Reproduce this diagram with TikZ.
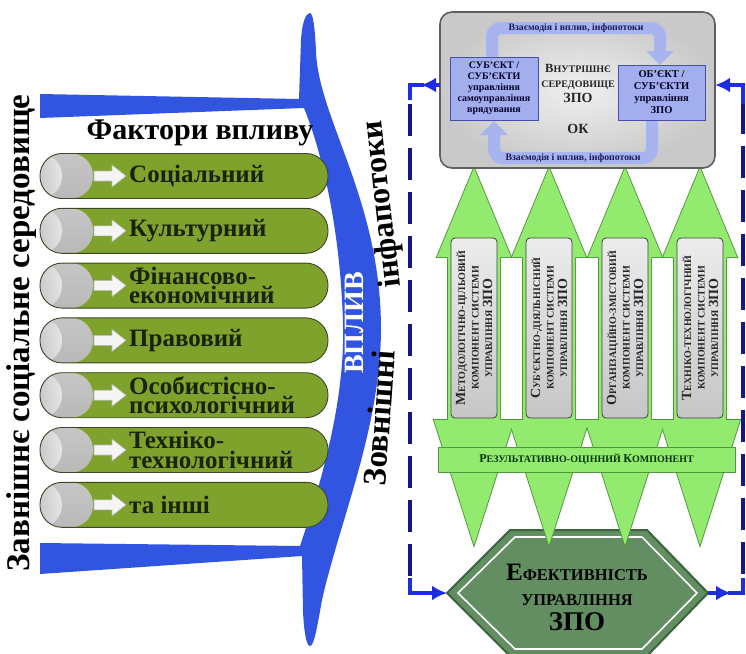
\documentclass[tikz,border=0pt]{standalone}
\usepackage{fontspec}
\setmainfont{Liberation Serif}
\usetikzlibrary{arrows.meta}
\definecolor{funnelblue}{RGB}{50,85,225}
\definecolor{navyd}{RGB}{22,22,140}
\definecolor{arrblue}{RGB}{30,45,225}
\definecolor{pillgreen}{RGB}{126,162,44}
\definecolor{pillline}{RGB}{60,70,40}
\definecolor{pilltextc}{RGB}{25,35,10}
\definecolor{lgreen}{RGB}{146,235,110}
\definecolor{gdark}{RGB}{80,150,60}
\definecolor{loopblue}{RGB}{168,180,240}
\definecolor{boxblue}{RGB}{162,174,238}
\definecolor{boxblueline}{RGB}{70,80,170}
\definecolor{envline}{RGB}{95,95,95}
\definecolor{hexgreen}{RGB}{98,142,98}
\definecolor{hexline}{RGB}{60,100,60}
\definecolor{looptextc}{RGB}{25,25,90}
\newcommand{\myBig}[2][14]{{\fontsize{#1}{#1}\selectfont #2}}
\begin{document}
\begin{tikzpicture}[x=1pt,y=-1pt,
  pill/.style={draw=pillline, line width=0.9pt, fill=pillgreen, rounded corners=22pt,
    minimum width=288pt, minimum height=45pt, inner sep=0pt,
    path picture={\shade[top color=gray!45, middle color=white, bottom color=gray!55]
      (path picture bounding box.south west) rectangle ([xshift=53pt]path picture bounding box.north west);
      \shade[left color=gray!35, right color=white, opacity=0.6]
      (path picture bounding box.south west) rectangle ([xshift=22pt]path picture bounding box.north west);}},
  pilltext/.style={anchor=west, inner sep=0pt, align=left, text=pilltextc, font=\bfseries\fontsize{25}{19.5}\selectfont},
  garrow/.style={fill=gray!8, draw=gray!55, line width=0.6pt},
  bigvert/.style={inner sep=0pt, font=\bfseries\fontsize{33}{33}\selectfont},
  comp/.style={draw=gray!50!black, line width=0.8pt, rounded corners=4pt, top color=gray!15, bottom color=gray!45,
    minimum width=180pt, minimum height=46pt, inner sep=1pt, align=center, text=black!85,
    font=\bfseries\fontsize{10}{13.5}\selectfont, rotate=90},
  bandbox/.style={draw=gdark, line width=1pt, fill=lgreen, minimum width=297pt, minimum height=25pt, inner sep=0pt,
    font=\bfseries\fontsize{10}{10}\selectfont, text=black!80!green},
  envbox/.style={draw=envline, line width=1.6pt, rounded corners=12pt, inner color=gray!12, outer color=gray!42,
    minimum width=275pt, minimum height=156pt},
  subbox/.style={draw=boxblueline, line width=0.8pt, fill=boxblue, align=center, inner sep=0pt,
    font=\bfseries\fontsize{10}{11}\selectfont, text=black!85!blue},
  looptext/.style={inner sep=0pt, font=\bfseries\fontsize{9.8}{10}\selectfont, text=looptextc},
  loopband/.style={draw=loopblue, line width=12pt, rounded corners=9pt, -{Triangle[length=14pt,width=27pt]}},
  fbsolid/.style={draw=arrblue, line width=4pt},
  fbdash/.style={draw=navyd, line width=4.5pt, dash pattern=on 32pt off 12pt},
  fbtip/.style={-{Latex[length=15pt,width=15pt]}}
]
\useasboundingbox (0,0) rectangle (746,653);

% ---------- blue funnel ----------
\fill[funnelblue] (40,94) -- (299,99) -- (301,40) .. controls (302,22) and (306,13) .. (310,13)
  .. controls (313,13) and (315,28) .. (316,52)
  .. controls (319,120) and (381,200) .. (381,330)
  .. controls (380,430) and (340,520) .. (322,600)
  .. controls (317,628) and (314,646) .. (310,646)
  .. controls (306,646) and (304,630) .. (303,612)
  -- (302,556) -- (40,574) -- (40,543) -- (300,546)
  .. controls (322,480) and (345,400) .. (343,325)
  .. controls (341,240) and (325,160) .. (304,108)
  -- (40,118) -- cycle;

\node[inner sep=0pt, text=white, rotate=90, font=\bfseries\fontsize{28}{28}\selectfont] (vplyv) at (354,323) {ВПЛИВ};
\node[bigvert, rotate=96.5, font=\bfseries\fontsize{32}{32}\selectfont] (infa) at (383,204) {інфапотоки};
\node[bigvert, rotate=86] (zovn) at (379,418) {Зовнішні};
\node[bigvert, rotate=90] (env0) at (22,333) {Завнішнє соціальне середовище};
\node[inner sep=0pt, font=\bfseries\fontsize{30}{30}\selectfont] (fakt) at (200,133) {Фактори впливу};

% ---------- pills ----------
\foreach \yy/\txt [count=\i] in {176/{Соціальний}, 230.8/{Культурний}, 285.6/{Фінансово-\\економічний},
    340.4/{Правовий}, 395.2/{Особистісно-\\психологічний}, 450/{Техніко-\\технологічний}, 504.8/{та інші}} {
  \node[pill] (pill\i) at (184,\yy) {};
  \filldraw[garrow] (94,\yy-5) -- (112,\yy-5) -- (112,\yy-11) -- (126,\yy) -- (112,\yy+11) -- (112,\yy+5) -- (94,\yy+5) -- cycle;
  \node[pilltext] (ptext\i) at (129,\yy) {\txt};
}

% ---------- hexagon ----------
\filldraw[fill=hexgreen, draw=hexline, line width=2pt] (447,593) -- (510,530) -- (647,530) -- (708,593) -- (647,656) -- (510,656) -- cycle;
\draw[white, line width=1.6pt] (458,593) -- (515,537) -- (642,537) -- (697,593) -- (642,649) -- (515,649) -- cycle;
\coordinate (hexL) at (447,593);
\coordinate (hexR) at (708,593);
\node[align=center, inner sep=0pt, font=\bfseries\fontsize{16.5}{25}\selectfont, text=black] (hext) at (577,597)
  {\myBig[25]{Е}ФЕКТИВНІСТЬ\\УПРАВЛІННЯ\\\myBig[27]{ЗПО}};

% ---------- green double arrows ----------
\foreach \cx in {474,549,625,700} {
  \draw[gdark, line width=1.8pt] (\cx,168) -- (\cx+37,257) -- (\cx+26,257) -- (\cx+26,420) -- (\cx+40,420) -- (\cx,545)
     -- (\cx-40,420) -- (\cx-26,420) -- (\cx-26,257) -- (\cx-37,257) -- cycle;
}
\foreach \cx in {474,549,625,700} {
  \fill[lgreen] (\cx,168) -- (\cx+37,257) -- (\cx+26,257) -- (\cx+26,420) -- (\cx+40,420) -- (\cx,545)
     -- (\cx-40,420) -- (\cx-26,420) -- (\cx-26,257) -- (\cx-37,257) -- cycle;
}

\node[comp] (c1) at (474,328) {\myBig{М}ЕТОДОЛОГІЧНО-ЦІЛЬОВИЙ\\КОМПОНЕНТ СИСТЕМИ\\УПРАВЛІННЯ \myBig{ЗПО}};
\node[comp] (c2) at (549,328) {\myBig{С}УБ'ЄКТНО-ДІЯЛЬНІСНИЙ\\КОМПОНЕНТ СИСТЕМИ\\УПРАВЛІННЯ \myBig{ЗПО}};
\node[comp] (c3) at (625,328) {\myBig{О}РГАНІЗАЦІЙНО-ЗМІСТОВИЙ\\КОМПОНЕНТ СИСТЕМИ\\УПРАВЛІННЯ \myBig{ЗПО}};
\node[comp] (c4) at (700,328) {\myBig{Т}ЕХНІКО-ТЕХНОЛОГІЧНИЙ\\КОМПОНЕНТ СИСТЕМИ\\УПРАВЛІННЯ \myBig{ЗПО}};

\node[bandbox] (band) at (586.5,459.5) {\myBig[12]{Р}ЕЗУЛЬТАТИВНО-ОЦІННИЙ \myBig[12]{К}ОМПОНЕНТ};

% ---------- internal environment ----------
\node[envbox] (env) at (577.5,90) {};
\coordinate (envLW) at (440,85);
\coordinate (envRE) at (715,85);

\draw[loopband] (492,57) -- (492,28) -- (660,28) -- (660,65);
\draw[loopband] (652,120) -- (652,158) -- (494,158) -- (494,121);
\node[looptext] (lt1) at (576,28) {Взаємодія і вплив, інфопотоки};
\node[looptext] (lt2) at (573,158.5) {Взаємодія і вплив, інфопотоки};

\node[subbox, minimum width=88pt, minimum height=63pt] (sub) at (494,88.5)
  {СУБ'ЄКТ /\\СУБ'ЄКТИ\\управління\\самоуправління\\врядування};
\node[subbox, minimum width=87pt, minimum height=55pt, font=\bfseries\fontsize{10.5}{12}\selectfont] (obj) at (661.5,92.5)
  {ОБ'ЄКТ /\\СУБ'ЄКТИ\\управління\\ЗПО};
\node[align=center, inner sep=0pt, font=\bfseries\fontsize{10}{15}\selectfont, text=black!85] (inner) at (578,83)
  {\myBig[12.5]{В}НУТРІШНЄ\\СЕРЕДОВИЩЕ\\\myBig[14]{ЗПО}};
\node[inner sep=0pt, font=\bfseries\fontsize{14}{14}\selectfont, text=black!85] (ok) at (578,129) {ОК};

% ---------- feedback loops ----------
\draw[fbsolid, fbtip] (envLW) -- (421,85);
\draw[fbsolid] (424,85) -- (410,85) -- (410,100);
\draw[fbdash] (410,104) -- (410,580);
\draw[fbsolid, fbtip] (410,578) -- (410,593) -- (hexL);

\draw[fbsolid, fbtip] (hexR) -- (731,593);
\draw[fbsolid] (728,593) -- (743,593) -- (743,578);
\draw[fbdash] (743,574) -- (743,100);
\draw[fbsolid, fbtip] (743,104) -- (743,85) -- (envRE);
\end{tikzpicture}
\end{document}
